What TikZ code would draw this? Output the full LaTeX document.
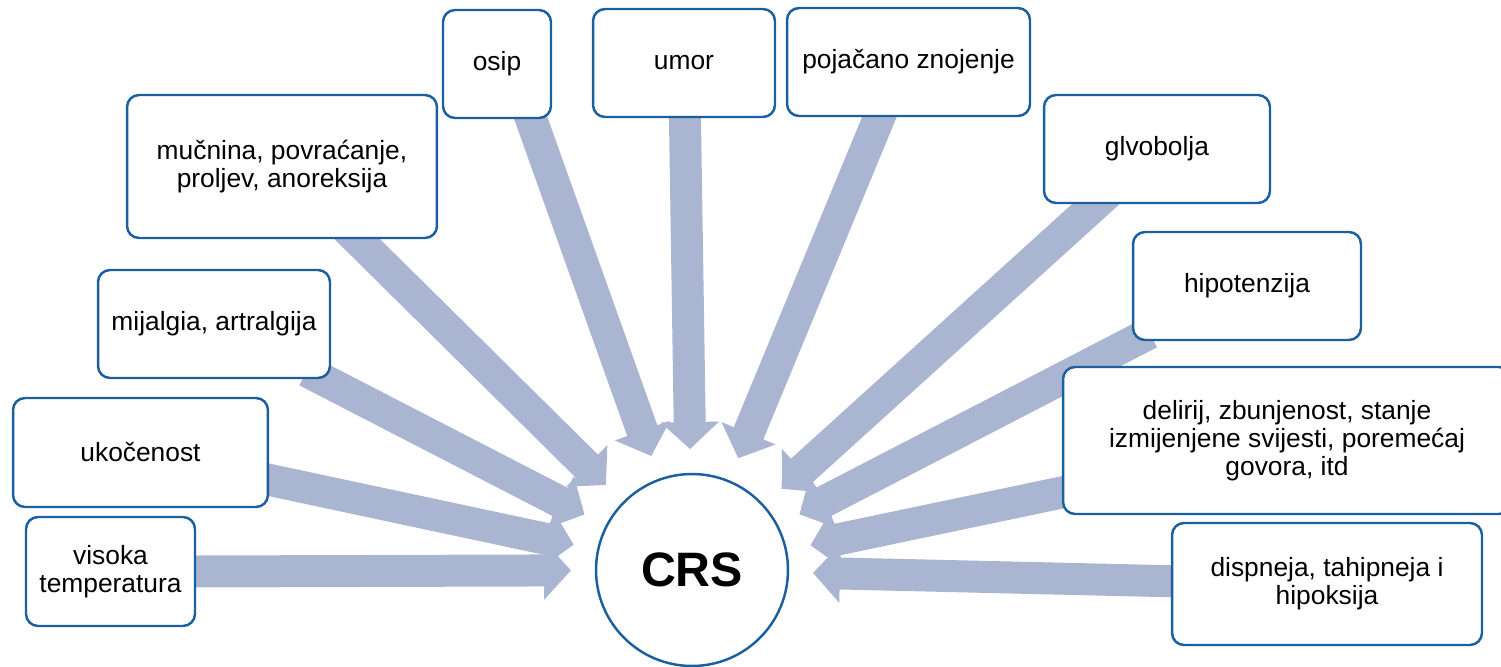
\documentclass[tikz,border=0pt]{standalone}
\usepackage{fontspec}
\setmainfont{Liberation Sans}
\usepackage{tikz}
\usetikzlibrary{arrows.meta,backgrounds}
\definecolor{boxblue}{HTML}{1C5F9E}
\definecolor{arrblue}{HTML}{AAB5D1}

\begin{document}
\begin{tikzpicture}[x=0.02cm,y=-0.02cm,
  bx/.style={draw=boxblue,line width=1.4pt,fill=white,rounded corners=0.24cm,align=center,
    inner sep=2pt,outer sep=0pt,font=\fontsize{15}{16}\selectfont},
  arr/.style={draw=arrblue,line width=0.64cm,-{Triangle[length=0.54cm,width=1.14cm]},
    shorten <=-0.3cm,shorten >=0.5cm}]
\useasboundingbox (0,0) rectangle (1501,666);
\node[draw=boxblue,line width=1.4pt,circle,fill=white,minimum size=3.84cm,inner sep=0pt,outer sep=0pt,
  font=\fontsize{27.5}{32}\selectfont\bfseries] (crs) at (692,570) {CRS};
\node[bx,minimum width=2.16cm,minimum height=2.16cm] (osip) at (497,64) {osip};
\node[bx,minimum width=3.64cm,minimum height=2.16cm] (umor) at (684,63) {umor};
\node[bx,minimum width=4.86cm,minimum height=2.16cm] (pojacano) at (908.5,62) {pojačano znojenje};
\node[bx,minimum width=4.52cm,minimum height=2.16cm] (glvobolja) at (1157,149) {glvobolja};
\node[bx,minimum width=4.56cm,minimum height=2.16cm] (hipotenzija) at (1247,286) {hipotenzija};
\node[bx,minimum width=8.96cm,minimum height=2.94cm] (delirij) at (1287,440.5)
  {delirij, zbunjenost, stanje\\izmijenjene svijesti, poremećaj\\govora, itd};
\node[bx,minimum width=6.2cm,minimum height=2.44cm] (dispneja) at (1327,584)
  {dispneja, tahipneja i\\hipoksija};
\node[bx,minimum width=6.2cm,minimum height=2.86cm] (mucnina) at (282,166.5)
  {mučnina, povraćanje,\\proljev, anoreksija};
\node[bx,minimum width=4.64cm,minimum height=2.16cm] (mijalgia) at (214,324) {mijalgia, artralgija};
\node[bx,minimum width=5.1cm,minimum height=2.18cm] (ukocenost) at (140.5,452.5) {ukočenost};
\node[bx,minimum width=3.38cm,minimum height=2.18cm] (visoka) at (110.5,571.5) {visoka\\temperatura};
\begin{scope}[on background layer]
\foreach \src/\ang in {visoka/0,ukocenost/-12,mijalgia/-27,mucnina/-44,osip/-58,umor/-89,
  pojacano/-118,glvobolja/-138,hipotenzija/-154,delirij/-167,dispneja/179}
  \draw[arr] (\src.\ang) -- (crs);
\end{scope}
\end{tikzpicture}
\end{document}
